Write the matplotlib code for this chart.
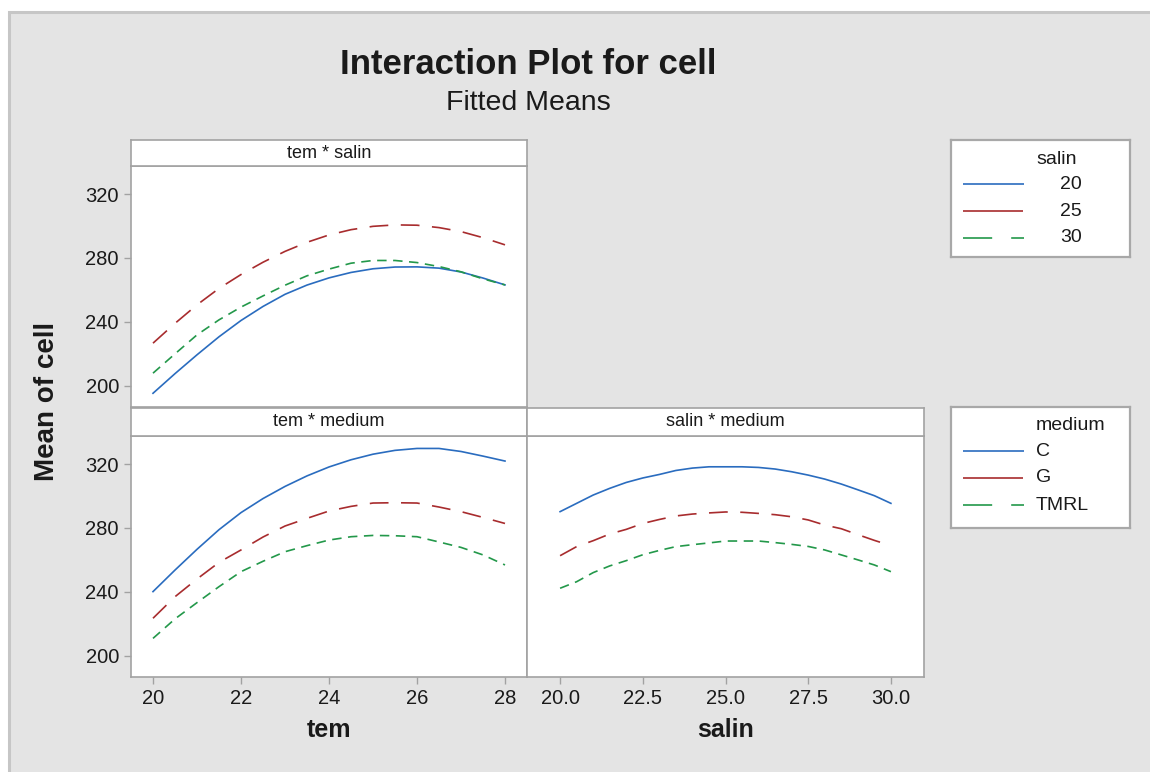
import matplotlib
matplotlib.use('Agg')
import matplotlib.pyplot as plt
from matplotlib.patches import Rectangle

plt.rcParams['font.family'] = ['Liberation Sans', 'DejaVu Sans']
plt.rcParams['lines.scale_dashes'] = False

# ---------------- data ----------------
tem_levels = [20.0, 20.5, 21.0, 21.5, 22.0, 22.5, 23.0, 23.5, 24.0,
              24.5, 25.0, 25.5, 26.0, 26.5, 27.0, 27.5, 28.0]
salin_levels = [20.0, 20.5, 21.0, 21.5, 22.0, 22.5, 23.0, 23.5, 24.0, 24.5,
                25.0, 25.5, 26.0, 26.5, 27.0, 27.5, 28.0, 28.5, 29.0, 29.5, 30.0]

salin_groups = ['20', '25', '30']
medium_groups = ['C', 'G', 'TMRL']

# tem * salin
tem_salin20 = [195.2, 207.5, 219.3, 230.6, 240.8, 249.6, 257.2, 263.0, 267.5,
               270.9, 273.2, 274.3, 274.4, 273.6, 271.2, 267.4, 263.1]
tem_salin25 = [226.6, 239.0, 250.6, 260.9, 269.6, 277.3, 284.1, 289.8, 294.4,
               297.7, 299.8, 300.7, 300.5, 299.0, 296.5, 292.7, 288.2]
tem_salin30 = [207.8, 219.9, 231.8, 241.2, 249.2, 256.2, 262.9, 268.8, 273.0,
               276.7, 278.4, 278.4, 277.1, 274.6, 271.3, 266.9, 263.1]

# tem * medium
tem_medC = [240.1, 253.6, 266.6, 278.9, 289.6, 298.4, 306.0, 312.6, 318.2,
            322.7, 326.2, 328.6, 329.8, 329.8, 327.9, 325.0, 321.9]
tem_medG = [223.4, 236.9, 248.0, 258.4, 266.2, 274.3, 281.2, 286.0, 290.6,
            293.5, 295.6, 295.8, 295.6, 293.1, 290.2, 286.6, 282.8]
tem_medT = [210.8, 223.0, 233.2, 243.2, 252.6, 259.1, 265.1, 268.9, 272.4,
            274.5, 275.3, 275.1, 274.5, 271.2, 267.8, 263.1, 256.8]

# salin * medium
sal_medC = [290.2, 295.4, 300.6, 304.8, 308.5, 311.3, 313.5, 316.0, 317.5, 318.3,
            318.3, 318.3, 317.9, 316.9, 315.2, 313.1, 310.6, 307.5, 303.9, 300.2, 295.4]
sal_medG = [262.6, 268.3, 272.0, 276.2, 279.1, 282.8, 285.3, 287.5, 288.7, 289.4,
            290.0, 289.8, 289.1, 288.3, 287.0, 285.0, 281.8, 279.5, 275.8, 272.2, 268.9]
sal_medT = [242.2, 246.3, 252.0, 256.2, 259.5, 263.2, 265.9, 268.3, 269.5, 270.6,
            271.8, 271.8, 271.8, 270.8, 269.7, 268.4, 266.2, 263.1, 260.0, 256.8, 252.6]

y_ticks = [200, 240, 280, 320]
tem_ticks = [20, 22, 24, 26, 28]
salin_ticks = [20.0, 22.5, 25.0, 27.5, 30.0]
salin_ticklabels = ['20.0', '22.5', '25.0', '27.5', '30.0']

# ---------------- styling ----------------
BLUE, RED, GREEN = '#2a6cbf', '#a82c2e', '#23984a'
FRAME = '#a2a2a2'
TXT = '#1a1a1a'
LW = 1.2
STY = [dict(color=BLUE, linestyle='-'),
       dict(color=RED, dashes=(13.5, 9.0)),
       dict(color=GREEN, dashes=(6.8, 4.7))]

W, H = 1150, 772


def box(x0, y0, x1, y1):
    return [x0 / W, 1 - y1 / H, (x1 - x0) / W, (y1 - y0) / H]


fig = plt.figure(figsize=(11.5, 7.72), dpi=100)
fig.patch.set_facecolor('white')
fig.patches.append(Rectangle((9 / W, -0.02), 1.05, 1.02 - 12 / H,
                             transform=fig.transFigure, fc='#e4e4e4',
                             ec='#c6c6c6', lw=2.2, zorder=-10))


def style_axes(ax):
    ax.set_facecolor('white')
    for s in ax.spines.values():
        s.set_color(FRAME)
        s.set_linewidth(1.2)
    ax.tick_params(direction='out', length=5.2, width=1.0, color=FRAME,
                   labelsize=14.5, labelcolor=TXT, pad=3.5)
    ax.set_ylim(186.6, 337.6)


def strip(x0, y0, x1, y1, label):
    s = fig.add_axes(box(x0, y0, x1, y1))
    s.set_facecolor('white')
    s.set_xticks([])
    s.set_yticks([])
    for sp in s.spines.values():
        sp.set_color(FRAME)
        sp.set_linewidth(1.2)
    s.text(0.5, 0.5, label, ha='center', va='center', fontsize=13,
           color=TXT, transform=s.transAxes)


# top-left panel: tem * salin
ax1 = fig.add_axes(box(131, 166, 527, 407))
style_axes(ax1)
for vals, st in zip([tem_salin20, tem_salin25, tem_salin30], STY):
    ax1.plot(tem_levels, vals, lw=LW, **st)
ax1.set_xlim(19.5, 28.5)
ax1.set_xticks([])
ax1.set_yticks(y_ticks)
strip(131, 140, 527, 166, 'tem * salin')

# bottom-left panel: tem * medium
ax2 = fig.add_axes(box(131, 436, 527, 677))
style_axes(ax2)
for vals, st in zip([tem_medC, tem_medG, tem_medT], STY):
    ax2.plot(tem_levels, vals, lw=LW, **st)
ax2.set_xlim(19.5, 28.5)
ax2.set_xticks(tem_ticks)
ax2.set_yticks(y_ticks)
strip(131, 408, 527, 436, 'tem * medium')

# bottom-right panel: salin * medium
ax3 = fig.add_axes(box(527, 436, 924, 677))
style_axes(ax3)
for vals, st in zip([sal_medC, sal_medG, sal_medT], STY):
    ax3.plot(salin_levels, vals, lw=LW, **st)
ax3.set_xlim(19.0, 31.0)
ax3.set_xticks(salin_ticks)
ax3.set_xticklabels(salin_ticklabels)
ax3.set_yticks([])
strip(527, 408, 924, 436, 'salin * medium')

# titles and axis labels
fig.text(528 / W, 1 - 65 / H, 'Interaction Plot for cell', ha='center',
         va='center', fontsize=25, fontweight='bold', color=TXT)
fig.text(528 / W, 1 - 103 / H, 'Fitted Means', ha='center', va='center',
         fontsize=20.5, color=TXT)
fig.text(329 / W, 1 - 730 / H, 'tem', ha='center', va='center', fontsize=18,
         fontweight='bold', color=TXT)
fig.text(726 / W, 1 - 730 / H, 'salin', ha='center', va='center', fontsize=18,
         fontweight='bold', color=TXT)
fig.text(47 / W, 1 - 401 / H, 'Mean of cell', ha='center', va='center',
         rotation=90, fontsize=20, fontweight='bold', color=TXT)


# legends
def legend_box(x0, y0, x1, y1, title, labels, right_align):
    lg = fig.add_axes(box(x0, y0, x1, y1))
    lg.set_facecolor('white')
    lg.set_xticks([])
    lg.set_yticks([])
    for sp in lg.spines.values():
        sp.set_color('#a8a8a8')
        sp.set_linewidth(1.6)
    w, h = x1 - x0, y1 - y0
    lg.set_xlim(0, w)
    lg.set_ylim(h, 0)
    lg.text(85, 19, title, ha='left', va='center', fontsize=14, color=TXT)
    rows = [44, 71, 98]
    for i, (lab, yy) in enumerate(zip(labels, rows)):
        if i == 0:
            lg.plot([12, 73], [yy, yy], color=BLUE, lw=LW, solid_capstyle='butt')
        elif i == 1:
            lg.plot([12, 72], [yy, yy], color=RED, lw=LW, solid_capstyle='butt')
        else:
            lg.plot([12, 73], [yy, yy], color=GREEN, lw=LW, dashes=(21, 13.7))
        if right_align:
            lg.text(131, yy, lab, ha='right', va='center', fontsize=14, color=TXT)
        else:
            lg.text(85, yy, lab, ha='left', va='center', fontsize=14, color=TXT)


legend_box(951, 140, 1130, 257, 'salin', salin_groups, True)
legend_box(951, 407, 1130, 528, 'medium', medium_groups, False)

fig.savefig('out.png', dpi=100, facecolor=fig.get_facecolor())
